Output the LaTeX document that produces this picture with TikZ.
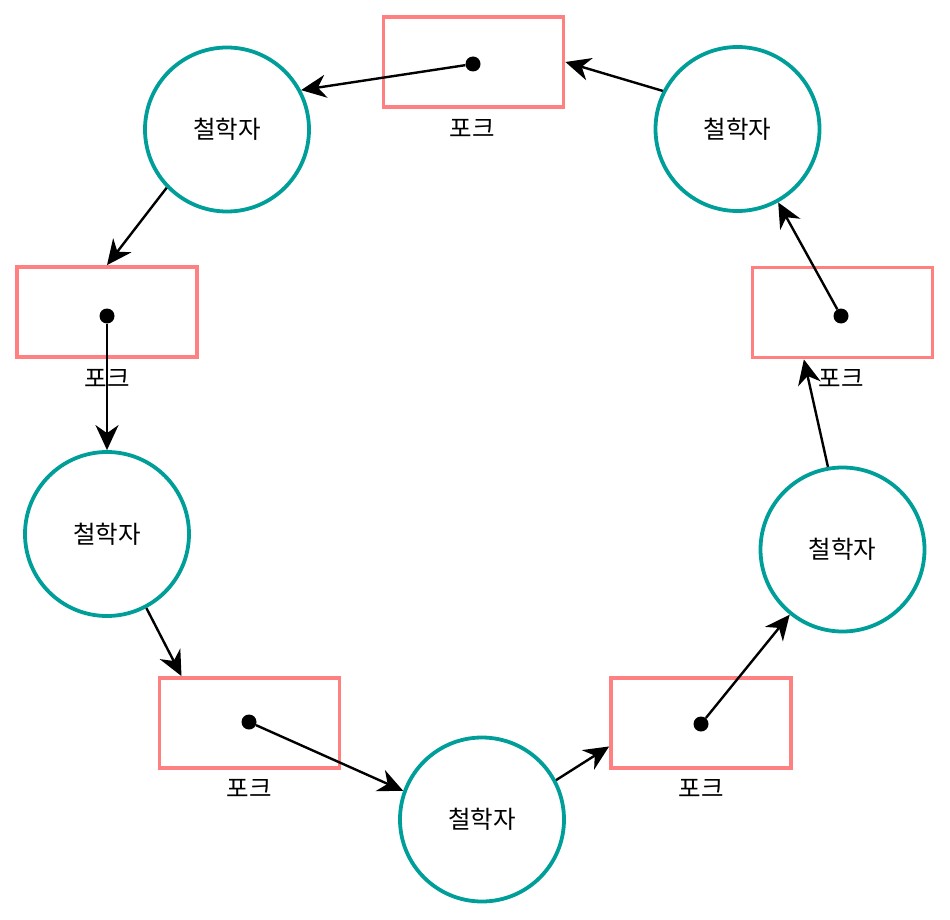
\documentclass[tikz,border=0pt]{standalone}
\usepackage{fontspec}
\newfontfamily\kr{Noto Sans CJK KR}
\usetikzlibrary{arrows.meta,calc}
\definecolor{tealc}{RGB}{0,158,153}
\definecolor{pinkc}{RGB}{255,128,128}
\tikzset{
  phil/.style={circle,draw=tealc,line width=3.8pt,minimum size=164pt,inner sep=0pt,font=\kr\fontsize{24.5}{28}\selectfont},
  fork/.style={rectangle,draw=pinkc,line width=3.8pt,minimum width=180pt,minimum height=90pt,inner sep=0pt},
  lbl/.style={font=\kr\fontsize{24.5}{28}\selectfont,inner sep=0pt},
  dot/.style={circle,fill=black,minimum size=15pt,inner sep=0pt},
  conn/.style={line width=2.4pt,-{Stealth[length=25pt,width=23pt,inset=8pt]}}
}
\begin{document}
\begin{tikzpicture}[x=1pt,y=-1pt]
\useasboundingbox (0,0) rectangle (950,920);
% philosophers
\node[phil] (ptl) at (227,129.5) {철학자};
\node[phil] (ptr) at (737.5,129) {철학자};
\node[phil] (pl) at (107,534) {철학자};
\node[phil] (pb) at (482,819.5) {철학자};
\node[phil] (pr) at (842.5,549.5) {철학자};
% forks
\node[fork] (ft) at (473.5,62) {};
\node[fork] (fl) at (107,312) {};
\node[fork] (fr) at (842.5,312.5) {};
\node[fork] (fbl) at (249.5,723) {};
\node[fork] (fbr) at (701,723) {};
% labels
\node[lbl] (lt) at (472,128) {포크};
\node[lbl] (ll) at (107,378) {포크};
\node[lbl] (lr) at (841,378) {포크};
\node[lbl] (lbl1) at (249,788) {포크};
\node[lbl] (lbr) at (701,788) {포크};
% dots
\node[dot] (dt) at (473,64) {};
\node[dot] (dl) at (107,316) {};
\node[dot] (dr) at (841,316) {};
\node[dot] (dbl) at (249,722) {};
\node[dot] (dbr) at (701,724) {};
% connectors
\draw[conn] (dt) -- (ptl.28);
\draw[conn] (ptr.153) -- (ft.east);
\draw[conn] (ptl.224) -- (fl.north);
\draw[conn] (dl) -- (pl.north);
\draw[conn] (pl.298) -- ($(fbl.north west)!0.13!(fbl.north east)$);
\draw[conn] (dbl) -- (pb.160);
\draw[conn] (pb.28.6) -- ($(fbr.north west)!0.75!(fbr.south west)$);
\draw[conn] (dbr) -- (pr.231);
\draw[conn] (pr.100.6) -- ($(fr.south west)!0.29!(fr.south east)$);
\draw[conn] (dr) -- (ptr.299);
\end{tikzpicture}
\end{document}
